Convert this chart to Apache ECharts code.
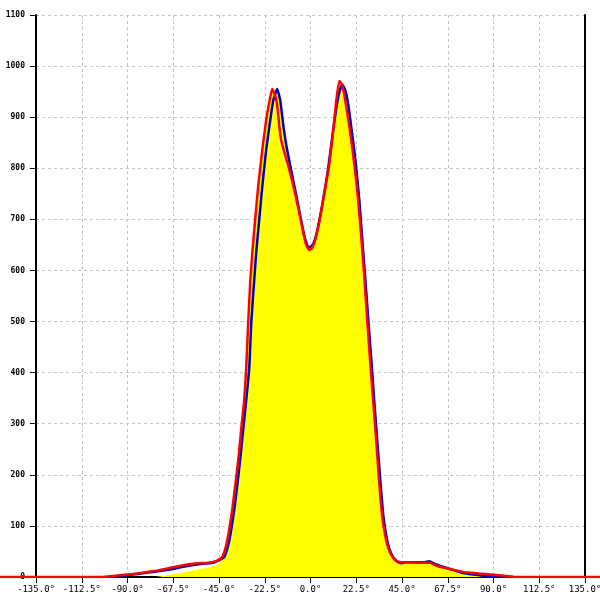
<!DOCTYPE html>
<html>
<head>
<meta charset="utf-8">
<script src="https://cdn.jsdelivr.net/npm/echarts@6/dist/echarts.min.js"></script>
<style>html,body{margin:0;padding:0;background:#fff}#c{width:600px;height:600px}</style>
</head>
<body>
<div id="c"></div>
<script>
// angles (degrees) and intensities
const redX = [-155,-103,-97,-90,-85,-80,-75,-70,-65,-60,-55,-50,-46,-43.4,-41.4,-40,-38.5,-37,-35.5,-34.1,-32.6,-31.6,-30.6,-29.6,-28.5,-27.2,-25.7,-23.7,-21.8,-19.8,-18.8,-17.4,-16.4,-15.4,-14.4,-12.9,-11,-8.5,-6,-3.6,-2.1,-0.6,0.8,2.3,4.3,6.7,9.2,11.2,12.7,14.2,15.6,17.1,19,21,23,24.9,26.4,27.9,29.3,30.8,32.3,33.7,35.2,37.2,39.2,41.6,44.1,47.4,54,58.8,62,67,75,83,91.6,100,145];
const redY = [0,0,2,5,7,10,13,17,21,25,27,28,32,39,63,92,131,180,229,288,346,410,500,580,640,700,765,836,894,939,955,943,924,885,855,832,806,767,722,675,650,640,644,659,695,748,806,875,933,971,963,933,885,826,757,669,591,503,425,346,268,190,121,72,47,33,29,29,28,28,22,17,10,7,4,0,0];

const blueX = [-100,-95,-90,-85,-80,-75,-70,-65,-60,-55,-50,-47.8,-45,-42.4,-40.4,-39,-37.5,-36,-34.6,-33.1,-31.6,-30.1,-29.1,-27.7,-26.6,-25.2,-23.7,-21.8,-19.8,-18.3,-16.4,-14.9,-13.4,-11.9,-10,-7.5,-5.1,-3.1,-1.1,0.3,1.8,3.8,6.2,8.7,10.7,12.7,14.2,15.6,17.1,18.6,20.1,22.1,24,25.5,27,28.5,30,31.4,32.9,34.4,35.9,37.9,39.8,42.3,44.6,47,52,56,58.5,60,61.5,65,70,75,80,86,92,100];
const blueY = [0,2,4,6,9,11,14,18,22,25,27,28,33,39,63,92,131,180,229,288,346,410,500,580,640,700,765,836,894,933,955,933,885,845,806,757,708,669,646,646,656,687,738,800,861,918,949,964,953,924,879,816,738,659,581,499,421,342,264,186,117,68,45,31,27,29,29,29,31,28,25,20,14,8,5,2,1,0];

const fillX = [-76,-70,-65,-60,-55,-50,-47.5,-45.5,-44.2,-43.4,-41.4,-40,-38.5,-37,-35.5,-34.1,-32.6,-31.6,-30.6,-29.6,-28.5,-27.2,-25.7,-23.7,-21.8,-19.8,-18.8,-17.5,-16.4,-14.9,-13.4,-11.9,-10,-7.5,-5.1,-3.1,-1.1,0.3,1.8,4.3,6.7,9.2,11.2,12.7,14.2,15.6,17.1,18.6,20.1,22.1,24,25.5,27,28.5,30,31.4,32.9,34.4,35.9,37.9,39.8,42.3,44.6,50,54,58,62,67,72,75,80,83,88];
const fillY = [0,4,7,11,15,19,21,26,33,39,63,92,131,180,229,288,346,410,500,580,640,700,765,836,894,939,955,952,955,933,885,845,806,757,708,669,646,646,657,695,748,806,875,933,971,964,953,924,879,816,738,659,581,499,421,342,264,186,117,68,45,31,29,28,28,27,22,14,9,7,4,2,0];

const xTicks = [-135,135,22.5];   // min, max, step
const yTicks = [0,1100,100];
const wideX = [-152.7,142.4];     // full-width angle range for the red trace

const pairs = (xs, ys) => xs.map((x, i) => [x, ys[i]]);
const font = '"DejaVu Sans Mono", monospace';

const chart = echarts.init(document.getElementById('c'), null, {renderer: 'canvas'});
chart.setOption({
  animation: false,
  backgroundColor: '#fff',
  grid: [
    {left: 36, right: 15, top: 15, bottom: 23, containLabel: false, outerBoundsMode: 'none'},
    {left: 0, right: 0, top: 15, bottom: 23, containLabel: false, outerBoundsMode: 'none'}
  ],
  xAxis: [{
    type: 'value', gridIndex: 0, min: xTicks[0], max: xTicks[1], interval: xTicks[2],
    axisLine: {show: true, onZero: false, lineStyle: {color: '#000', width: 2}},
    axisTick: {show: true, length: 6, lineStyle: {color: '#000', width: 1}},
    axisLabel: {color: '#000', fontFamily: font, fontSize: 9, margin: 8,
      formatter: v => v.toFixed(1) + '°', showMinLabel: true, showMaxLabel: true, hideOverlap: false},
    splitLine: {show: true, lineStyle: {color: '#c4c4c4', type: [3, 3], width: 1}}
  }, {
    type: 'value', gridIndex: 1, min: wideX[0], max: wideX[1], show: false
  }],
  yAxis: [{
    type: 'value', gridIndex: 0, min: yTicks[0], max: yTicks[1], interval: yTicks[2],
    axisLine: {show: true, onZero: false, lineStyle: {color: '#000', width: 2}},
    axisTick: {show: true, length: 6, lineStyle: {color: '#000', width: 1}},
    axisLabel: {color: '#000', fontFamily: font, fontSize: 8, fontWeight: 'bold', margin: 11,
      formatter: v => String(v)},
    splitLine: {show: true, lineStyle: {color: '#c4c4c4', type: [3, 3], width: 1}}
  }, {
    type: 'value', gridIndex: 0, position: 'right', min: yTicks[0], max: yTicks[1], interval: yTicks[2],
    axisLine: {show: true, onZero: false, lineStyle: {color: '#000', width: 2}},
    axisTick: {show: false}, axisLabel: {show: false}, splitLine: {show: false}
  }, {
    type: 'value', gridIndex: 1, min: yTicks[0], max: yTicks[1], show: false
  }],
  series: [
    {type: 'line', xAxisIndex: 0, yAxisIndex: 0, data: pairs(fillX, fillY), showSymbol: false, smooth: 0.15,
     lineStyle: {width: 0}, areaStyle: {color: '#ffff00', opacity: 1}, z: 2},
    {type: 'line', xAxisIndex: 0, yAxisIndex: 0, data: pairs(blueX, blueY), showSymbol: false, smooth: 0.15,
     lineStyle: {color: '#0000c8', width: 2.5}, z: 3},
    {type: 'line', xAxisIndex: 1, yAxisIndex: 2, data: pairs(redX, redY), showSymbol: false, smooth: 0.15,
     lineStyle: {color: '#ff0000', width: 2.5}, z: 4}
  ]
});
</script>
</body>
</html>
